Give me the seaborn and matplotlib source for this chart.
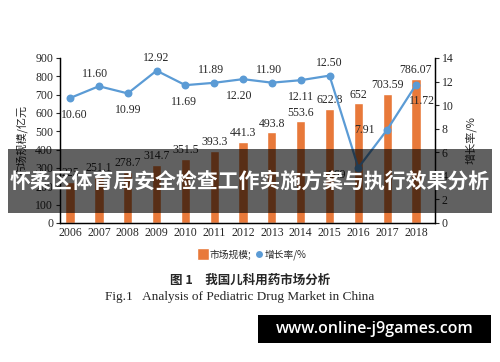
import matplotlib
matplotlib.use('Agg')
import matplotlib.pyplot as plt
from matplotlib.patches import Rectangle
from matplotlib.lines import Line2D
import seaborn as sns
import pandas as pd

# Data
years = ['2006', '2007', '2008', '2009', '2010', '2011', '2012',
         '2013', '2014', '2015', '2016', '2017', '2018']
market_size = [225, 251.1, 278.7, 314.7, 351.5, 393.3, 441.3,
               493.8, 553.6, 622.8, 652, 703.59, 786.07]
size_labels = ['225', '251.1', '278.7', '314.7', '351.5', '393.3', '441.3',
               '493.8', '553.6', '622.8', '652', '703.59', '786.07']
growth = [10.60, 11.60, 10.99, 12.92, 11.69, 11.89, 12.20,
          11.90, 12.11, 12.50, 4.69, 7.91, 11.72]

BAR_COLOR = '#E8793A'
LINE_COLOR = '#5B9BD5'
SERIF = ['Liberation Serif', 'Noto Sans CJK SC']
CJK = ['Noto Sans CJK SC', 'DejaVu Sans']

sns.set_style('white')
plt.rcParams['font.family'] = SERIF

df = pd.DataFrame({'year': years, 'size': market_size, 'growth': growth})

fig = plt.figure(figsize=(5, 3.62), dpi=100)
ax = fig.add_axes([0.12, 0.384, 0.75, 0.456])

sns.barplot(x='year', y='size', data=df, color=BAR_COLOR, width=0.32,
            saturation=1, ax=ax, zorder=2)
ax.set_ylim(0, 900)
ax.set_yticks(range(0, 901, 100))
ax.set_xlim(-0.35, 12.66)
ax.set_xlabel('')
ax.set_ylabel('市场规模/亿元', family=CJK, fontsize=8, labelpad=5)
ax.tick_params(axis='both', labelsize=8.5, length=3, width=0.8, pad=2)
ax.tick_params(axis='x', length=0, pad=3)
for s in ['left', 'bottom', 'right']:
    ax.spines[s].set_color('black')
    ax.spines[s].set_linewidth(0.9)
ax.spines['top'].set_visible(False)

for i, lab in enumerate(size_labels):
    ax.annotate(lab, (i, market_size[i]), xytext=(0, 2), textcoords='offset points',
                ha='center', va='bottom', fontsize=8.5)

ax2 = ax.twinx()
sns.pointplot(x='year', y='growth', data=df, color=LINE_COLOR, markers='o',
              markersize=4.5, linewidth=1.6, ax=ax2)
ax2.set_ylim(0, 14)
ax2.set_yticks(range(0, 15, 2))
ax2.set_xlim(-0.35, 12.66)
ax2.set_xlabel('')
ax2.set_ylabel('增长率/%', family=CJK, fontsize=8, rotation=90, labelpad=8)
ax2.tick_params(axis='y', labelsize=8.5, length=3, width=0.8, pad=2)
for s in ['left', 'bottom', 'right']:
    ax2.spines[s].set_color('black')
    ax2.spines[s].set_linewidth(0.9)
ax2.spines['top'].set_visible(False)

# label offsets in points (dx, dy) for growth values
offsets = [(3, -12), (-3, 9), (0, -12), (0, 9), (-1, -12), (-2, 9), (-3, -12),
           (-2, 9), (0, -12), (0, 9), (-9, -5), (-9, 0), (4, -12)]
for i, g in enumerate(growth):
    dx, dy = offsets[i]
    ax2.annotate(f'{g:.2f}', (i, g), xytext=(dx, dy), textcoords='offset points',
                 ha='center' if abs(dx) < 5 else 'right', va='center', fontsize=8.5)

handles = [Line2D([], [], marker='s', color='w', markerfacecolor=BAR_COLOR,
                  markersize=8, label='市场规模;'),
           Line2D([], [], marker='o', color='w', markerfacecolor=LINE_COLOR,
                  markersize=6, label='增长率/%')]
fig.legend(handles=handles, loc='center', bbox_to_anchor=(0.505, 0.296), ncol=2,
           frameon=False, prop={'family': CJK, 'size': 7}, handletextpad=0.1,
           columnspacing=0.3, handlelength=1)

fig.text(0.5, 0.226, '图 1　我国儿科用药市场分析', ha='center', va='center',
         family=CJK, fontsize=9, fontweight='bold')
fig.text(0.48, 0.18, 'Fig.1   Analysis of Pediatric Drug Market in China',
         ha='center', va='center', family=SERIF, fontsize=9.5)

# overlay banner
fig.add_artist(Rectangle((0.016, 0.412), 0.968, 0.177, transform=fig.transFigure,
                         facecolor='black', alpha=0.62, edgecolor='none', zorder=10))
fig.text(0.5, 0.5, '怀柔区体育局安全检查工作实施方案与执行效果分析', ha='center',
         va='center', color='white', family=CJK, fontsize=15, fontweight='bold',
         zorder=11)

# bottom-right box
fig.add_artist(Rectangle((0.516, 0.0525), 0.466, 0.077, transform=fig.transFigure,
                         facecolor='black', edgecolor='none', zorder=10))
fig.text(0.749, 0.091, 'www.online-j9games.com', ha='center', va='center',
         color='white', family=['Open Sans', 'DejaVu Sans'], fontsize=11.5,
         fontweight='semibold', zorder=11)

fig.savefig('out.png', dpi=100)
